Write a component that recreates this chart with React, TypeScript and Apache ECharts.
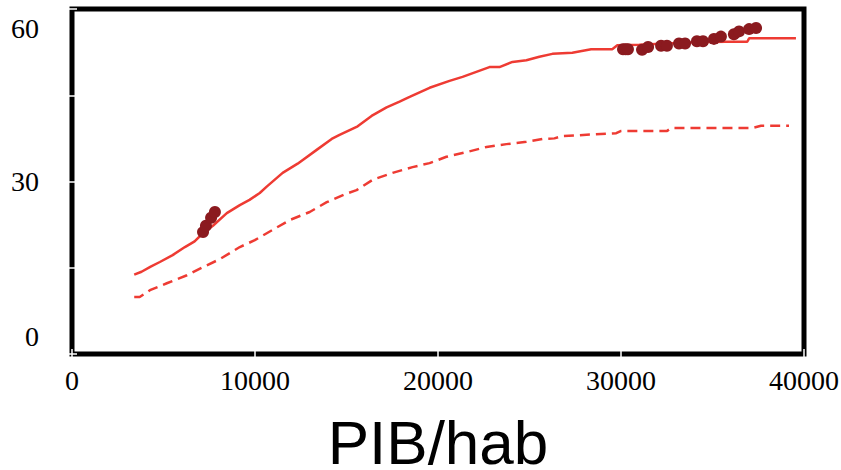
import React, { useEffect, useRef } from "react";
import * as echarts from "echarts";

const xTicks = [0, 10000, 20000, 30000, 40000];
const yTickLabels = [0, 30, 60];
const xAxisTitle = "PIB/hab";

const solidX = [3400, 3800, 4300, 4800, 5500, 6170, 6700, 7150, 7700, 8460, 9170, 9700, 10260, 10640, 11510, 12330, 13370, 14190, 14620, 15610, 16370, 17190, 17900, 18450, 19540, 20630, 21340, 22810, 23360, 24070, 24830, 25540, 26250, 27340, 28370, 29520, 29800, 31000, 32500, 34000, 35740, 36900, 37000, 39560];
const solidY = [13.8, 14.3, 15.2, 16.0, 17.2, 18.6, 19.6, 21.0, 22.3, 24.5, 25.9, 26.8, 28.0, 29.1, 31.5, 33.1, 35.5, 37.4, 38.1, 39.6, 41.4, 42.9, 43.9, 44.7, 46.3, 47.5, 48.2, 49.9, 49.9, 50.8, 51.1, 51.7, 52.2, 52.4, 53.0, 53.0, 53.7, 53.8, 54.0, 54.2, 54.3, 54.3, 54.9, 54.9];

const dashX = [3400, 3700, 4260, 5180, 6280, 7150, 8080, 9170, 9990, 10970, 11900, 12990, 13920, 15010, 15550, 16430, 17520, 18610, 19540, 20460, 21550, 22650, 23740, 24830, 25700, 26360, 26800, 29740, 30010, 32520, 32750, 37160, 37650, 39180];
const dashY = [9.9, 9.9, 11.1, 12.3, 13.7, 15.1, 16.5, 18.6, 19.8, 21.6, 23.3, 24.7, 26.4, 27.9, 28.5, 30.3, 31.5, 32.5, 33.2, 34.3, 35.1, 36.0, 36.5, 36.9, 37.4, 37.5, 37.9, 38.4, 38.8, 38.8, 39.3, 39.3, 39.7, 39.7];

const dotX = [7160, 7320, 7600, 7810, 30110, 30250, 30380, 31150, 31480, 32190, 32510, 33170, 33500, 34150, 34480, 35080, 35460, 36170, 36450, 37000, 37380];
const dotY = [21.2, 22.3, 23.7, 24.7, 53.0, 53.0, 53.0, 52.9, 53.4, 53.6, 53.6, 54.0, 54.0, 54.4, 54.4, 54.8, 55.2, 55.6, 56.1, 56.5, 56.7];

const zip = (xs: number[], ys: number[]) => xs.map((x, i) => [x, ys[i]]);

export default function App() {
  const ref = useRef<HTMLDivElement>(null);
  useEffect(() => {
    if (!ref.current) return;
    const chart = echarts.init(ref.current, null, { renderer: "svg" });
    const serif = "Liberation Serif";
    const tickCommon = {
      show: true,
      inside: true,
      length: 5,
      lineStyle: { color: "#ffffff", width: 1.5 },
    };
    chart.setOption({
      animation: false,
      backgroundColor: "#ffffff",
      grid: {
        left: 72,
        right: 37,
        top: 9,
        bottom: 116,
        show: true,
        containLabel: false,
        outerBoundsMode: "none",
        borderColor: "#000000",
        borderWidth: 5,
        backgroundColor: "#ffffff",
      },
      xAxis: [
        {
          type: "value",
          min: xTicks[0],
          max: xTicks[xTicks.length - 1],
          interval: 10000,
          position: "bottom",
          axisLine: { show: false },
          axisTick: tickCommon,
          splitLine: { show: false },
          axisLabel: {
            color: "#000",
            fontFamily: serif,
            fontSize: 28,
            margin: 12,
            formatter: (v: number) => (xTicks.includes(v) ? String(v) : ""),
          },
          name: xAxisTitle,
          nameLocation: "middle",
          nameGap: 88,
          nameTextStyle: {
            color: "#000",
            fontFamily: "Liberation Sans",
            fontSize: 62,
            lineHeight: 52,
            verticalAlign: "middle",
          },
        },
        {
          type: "value",
          min: xTicks[0],
          max: xTicks[xTicks.length - 1],
          interval: 10000,
          position: "top",
          axisLine: { show: false },
          axisTick: tickCommon,
          splitLine: { show: false },
          axisLabel: { show: false },
        },
      ],
      yAxis: [
        {
          type: "value",
          min: 0,
          max: 60,
          interval: 15,
          position: "left",
          axisLine: { show: false },
          axisTick: tickCommon,
          splitLine: { show: false },
          axisLabel: {
            color: "#000",
            fontFamily: serif,
            fontSize: 28,
            margin: 33,
            formatter: (v: number) => {
              if (!yTickLabels.includes(v)) return "";
              if (v === yTickLabels[yTickLabels.length - 1]) return "{t|" + v + "}";
              if (v === yTickLabels[0]) return "{b|" + v + "}";
              return String(v);
            },
            rich: {
              t: { fontFamily: serif, fontSize: 28, color: "#000", padding: [38, 0, 0, 0] },
              b: { fontFamily: serif, fontSize: 28, color: "#000", padding: [0, 0, 36, 0] },
            },
          },
        },
        {
          type: "value",
          min: 0,
          max: 60,
          interval: 15,
          position: "right",
          axisLine: { show: false },
          axisTick: tickCommon,
          splitLine: { show: false },
          axisLabel: { show: false },
        },
      ],
      series: [
        {
          type: "line",
          data: zip(dashX, dashY),
          showSymbol: false,
          lineStyle: { color: "#EE3B33", width: 2.5, type: [10, 6] },
          z: 2,
        },
        {
          type: "line",
          data: zip(solidX, solidY),
          showSymbol: false,
          lineStyle: { color: "#EE3B33", width: 2.5 },
          z: 2,
        },
        {
          type: "scatter",
          data: zip(dotX, dotY),
          symbol: "circle",
          symbolSize: 12,
          itemStyle: { color: "#8B1A1F", opacity: 1 },
          z: 3,
        },
      ],
    });
    return () => chart.dispose();
  }, []);
  return (
    <div
      ref={ref}
      style={{ position: "fixed", left: 0, top: 0, width: 841, height: 470 }}
    />
  );
}
